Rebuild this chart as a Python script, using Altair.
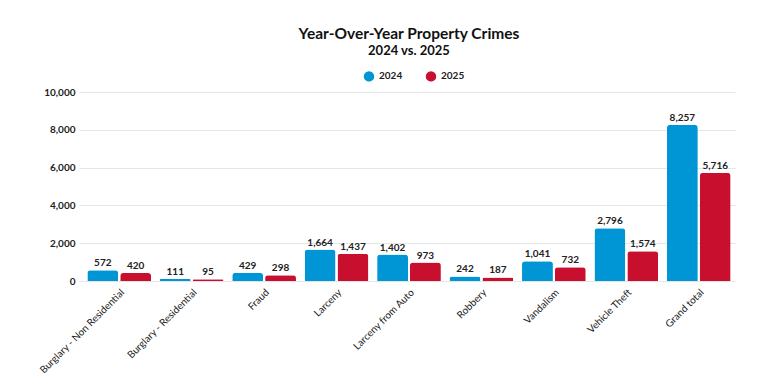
import altair as alt
import pandas as pd

categories = ["Burglary - Non Residential", "Burglary - Residential", "Fraud", "Larceny",
              "Larceny from Auto", "Robbery", "Vandalism", "Vehicle Theft", "Grand total"]
values_2024 = [572, 111, 429, 1664, 1402, 242, 1041, 2796, 8257]
values_2025 = [420, 95, 298, 1437, 973, 187, 732, 1574, 5716]
years = ["2024", "2025"]
colors = ["#0096d6", "#c8102e"]

rows = []
for c, a, b in zip(categories, values_2024, values_2025):
    rows.append({"category": c, "year": "2024", "value": a})
    rows.append({"category": c, "year": "2025", "value": b})
df = pd.DataFrame(rows)

FONT = "Lato"

x = alt.X("category:N", sort=categories, title=None,
          scale=alt.Scale(paddingInner=0.12, paddingOuter=0.06),
          axis=alt.Axis(labelAngle=-45, labelFontSize=10, labelColor="#222",
                        labelFont=FONT, ticks=False, domain=False, labelPadding=6))
xo = alt.XOffset("year:N", sort=years, scale=alt.Scale(paddingInner=0.06))
y = alt.Y("value:Q", title=None,
          scale=alt.Scale(domain=[0, 10000]),
          axis=alt.Axis(values=[0, 2000, 4000, 6000, 8000, 10000], format=",.0f",
                        labelFontSize=10, labelFont=FONT, labelFontWeight="bold",
                        labelColor="#222", tickSize=4, tickColor="#e6e6e6",
                        gridColor="#e6e6e6", domain=False, labelPadding=4))

base = alt.Chart(df).encode(x=x, xOffset=xo, y=y)

bars = base.mark_bar(cornerRadiusTopLeft=3, cornerRadiusTopRight=3).encode(
    color=alt.Color("year:N", sort=years,
                    scale=alt.Scale(domain=years, range=colors),
                    legend=alt.Legend(title=None, orient="none", direction="horizontal",
                                      legendX=280, legendY=-22,
                                      symbolType="circle", symbolSize=110,
                                      labelFont=FONT, labelFontSize=10,
                                      labelFontWeight="bold", labelColor="#222",
                                      columnPadding=22)),
)

labels = base.mark_text(dy=-7, fontSize=10, fontWeight="bold",
                        font=FONT, color="#222").encode(
    text=alt.Text("value:Q", format=","),
)

chart = (bars + labels).properties(
    width=652, height=189,
    autosize=alt.AutoSizeParams(type="none"),
    padding={"left": 75, "top": 84, "right": 20, "bottom": 100},
    title=alt.TitleParams("Year-Over-Year Property Crimes", subtitle="2024 vs. 2025",
                          anchor="middle", font=FONT, fontSize=15.5, fontWeight="bold",
                          color="#111", subtitleFont=FONT, subtitleFontSize=13,
                          subtitleFontWeight="bold", subtitleColor="#111",
                          subtitlePadding=3, offset=12),
).configure_view(stroke=None)

chart.save("out.html", embed_options={"renderer": "svg", "actions": False})
